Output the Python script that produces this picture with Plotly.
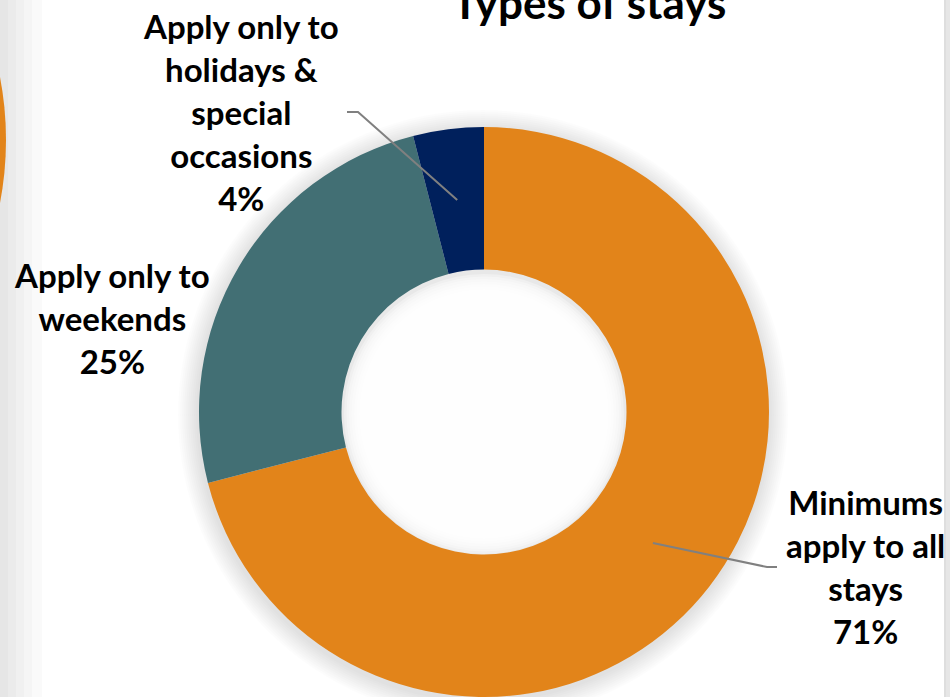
import plotly.graph_objects as go

# Share of minimum-stay policies by type of stay
categories = ["Minimums apply to all stays",
              "Apply only to weekends",
              "Apply only to holidays & special occasions"]
values = [71, 25, 4]
label_lines = [["Minimums", "apply to all", "stays"],
               ["Apply only to", "weekends"],
               ["Apply only to", "holidays &", "special", "occasions"]]
colors = ["#E2841A", "#426F74", "#00205C"]
title_text = "Types of stays"

# ---- layout geometry (pixels) ----
W, H = 950, 697
CX, CY, R = 484, 412, 285          # donut centre and outer radius
HOLE = 0.5
FONT = "Lato, 'Open Sans', sans-serif"

# label block centres and leader-line elbows (None = no leader)
label_centres = [(865, 566), (112, 318), (241, 112)]
leader_elbows = [((767, 567), (777, 567)), None, ((358, 112), (347, 112))]


def px(x):
    return x / W


def py(y):
    return 1 - y / H


def circle(cx, cy, r, fill, layer="below"):
    return dict(type="circle", xref="paper", yref="paper",
                x0=px(cx - r), x1=px(cx + r), y0=py(cy + r), y1=py(cy - r),
                fillcolor=fill, line=dict(width=0), layer=layer)


shapes = []

# soft grey band along the left edge, with the rim of a neighbouring orange donut
for w in (8, 16, 24, 32, 42):
    shapes.append(dict(type="rect", xref="paper", yref="paper",
                       x0=0, x1=px(w), y0=0, y1=1,
                       fillcolor="rgba(0,0,0,0.02)", line=dict(width=0), layer="below"))
shapes.append(circle(-328, 140, 334, "#E2841A"))

# thin grey strip along the right edge
shapes.append(dict(type="rect", xref="paper", yref="paper",
                   x0=px(944), x1=1, y0=0, y1=1,
                   fillcolor="#E6E6E6", line=dict(width=0), layer="below"))
shapes.append(dict(type="line", xref="paper", yref="paper",
                   x0=px(945), x1=px(945), y0=0, y1=1,
                   line=dict(color="#D6D6D6", width=1), layer="below"))

# blurred drop shadow around the ring
for k in range(10):
    shapes.append(circle(CX - 1, CY + 3, R + 20 - 2 * k, "rgba(0,0,0,0.011)"))
# inner shadow in the hole
r_in = R * HOLE
shapes.append(circle(CX, CY, r_in + 1, "#FFFFFF"))
shapes.append(circle(CX, CY, r_in + 1, "rgba(0,0,0,0.09)"))
for k in range(1, 8):
    shapes.append(circle(CX, CY + 2, r_in - 2.5 * k, "rgba(255,255,255,0.35)"))

fig = go.Figure(go.Pie(
    labels=categories,
    values=values,
    hole=HOLE,
    sort=False,
    direction="clockwise",
    rotation=0,
    marker=dict(colors=colors, line=dict(width=0)),
    textinfo="none",
    hoverinfo="none",
    showlegend=False,
    domain=dict(x=[px(CX - R), px(CX + R)], y=[py(CY + R), py(CY - R)]),
))

# leader lines from the middle of each slice to its label
total = sum(values)
cum = 0
r_mid = R * (1 + HOLE) / 2
import math
for v, elbow in zip(values, leader_elbows):
    theta = 2 * math.pi * (cum + v / 2) / total
    cum += v
    if elbow is None:
        continue
    sx = CX + r_mid * math.sin(theta)
    sy = CY - r_mid * math.cos(theta)
    (ex, ey), (tx, ty) = elbow
    shapes.append(dict(type="path", xref="paper", yref="paper",
                       path=f"M {px(sx)} {py(sy)} L {px(ex)} {py(ey)} L {px(tx)} {py(ty)}",
                       line=dict(color="#808080", width=2), layer="above"))

annotations = []
for v, lines, (lx, ly) in zip(values, label_lines, label_centres):
    pct = f"{round(100 * v / total)}%"
    annotations.append(dict(
        text="<br>".join(lines + [pct]), x=px(lx), y=py(ly),
        xref="paper", yref="paper", xanchor="center", yanchor="middle",
        showarrow=False, align="center",
        font=dict(family=FONT, size=33, color="#000000", weight="bold")))

annotations.append(dict(
    text=title_text, x=px(589), y=py(2), xref="paper", yref="paper",
    xanchor="center", yanchor="middle", showarrow=False,
    font=dict(family=FONT, size=44, color="#000000", weight="bold")))

fig.update_layout(
    width=W, height=H,
    margin=dict(l=0, r=0, t=0, b=0),
    paper_bgcolor="#FFFFFF", plot_bgcolor="#FFFFFF",
    shapes=shapes, annotations=annotations,
)

fig.write_html("out.html")
